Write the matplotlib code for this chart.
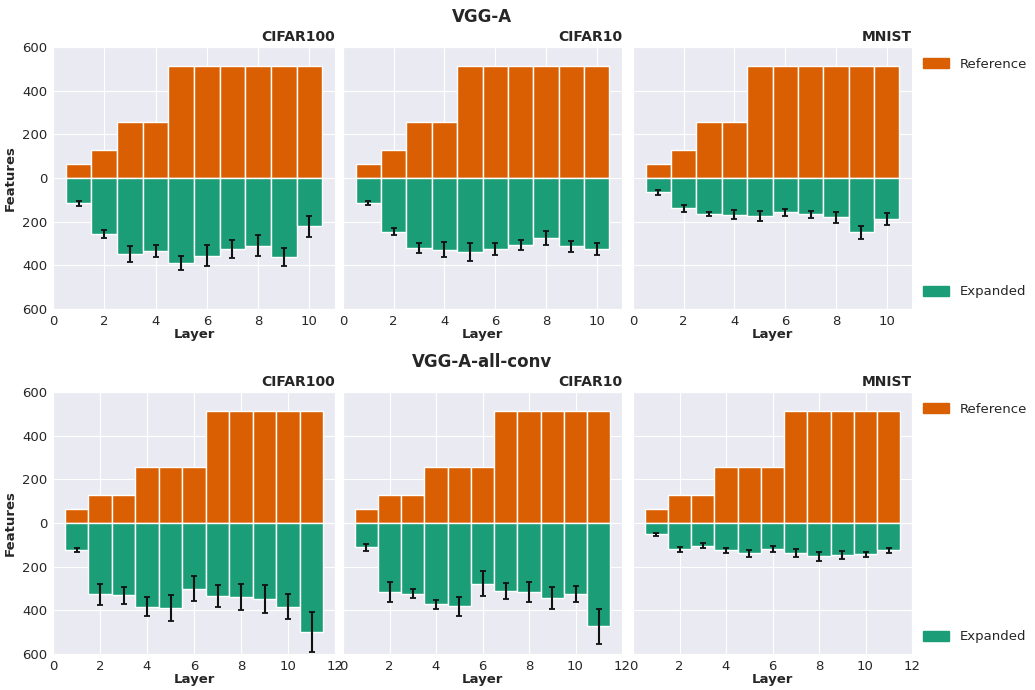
import matplotlib
matplotlib.use("Agg")
import matplotlib.pyplot as plt
import seaborn as sns
import numpy as np
from matplotlib.ticker import FuncFormatter
from matplotlib.patches import Patch

sns.set_style("darkgrid")
plt.rcParams['font.family'] = ['DejaVu Sans']

datasets = ["CIFAR100", "CIFAR10", "MNIST"]

# VGG-A: reference widths per layer
vgg_a_reference = [64, 128, 256, 256, 512, 512, 512, 512, 512, 512]
vgg_a_expanded = {
    "CIFAR100": [116, 256, 347, 334, 389, 357, 324, 310, 362, 221],
    "CIFAR10": [115, 247, 321, 328, 339, 325, 307, 275, 313, 324],
    "MNIST": [66, 139, 165, 169, 174, 157, 166, 180, 249, 189],
}
vgg_a_err = {
    "CIFAR100": [12, 17, 37, 29, 34, 48, 42, 49, 40, 47],
    "CIFAR10": [10, 16, 22, 34, 42, 29, 24, 34, 24, 27],
    "MNIST": [10, 15, 11, 21, 21, 15, 16, 25, 31, 27],
}

# VGG-A-all-conv: reference widths per layer
allconv_reference = [64, 128, 128, 256, 256, 256, 512, 512, 512, 512, 512]
allconv_expanded = {
    "CIFAR100": [124, 327, 331, 383, 388, 301, 336, 340, 348, 383, 499],
    "CIFAR10": [111, 315, 324, 373, 382, 278, 310, 315, 342, 325, 473],
    "MNIST": [52, 121, 104, 125, 139, 119, 139, 153, 148, 144, 125],
}
allconv_err = {
    "CIFAR100": [11, 49, 40, 43, 60, 57, 50, 60, 62, 56, 92],
    "CIFAR10": [17, 47, 20, 20, 42, 57, 37, 47, 51, 38, 80],
    "MNIST": [6, 11, 11, 11, 17, 12, 18, 22, 19, 12, 11],
}

ref_color = "#D95F02"
exp_color = "#1B9E77"

fig = plt.figure(figsize=(10.35, 6.9), dpi=100)

lefts = [53 / 1035, 343 / 1035, 633 / 1035]
widths = [282 / 1035, 279 / 1035, 279 / 1035]
rows = [
    ("VGG-A", vgg_a_reference, vgg_a_expanded, vgg_a_err, 1 - 309 / 690, 11),
    ("VGG-A-all-conv", allconv_reference, allconv_expanded, allconv_err, 1 - 654 / 690, 12),
]
ax_h = 262 / 690

absfmt = FuncFormatter(lambda v, p: f"{abs(v):g}")

for title, ref, expd, errs, bottom, xmax in rows:
    axes = []
    for i, ds in enumerate(datasets):
        ax = fig.add_axes([lefts[i], bottom, widths[i], ax_h])
        axes.append(ax)
        layers = np.arange(1, len(ref) + 1)
        ax.bar(layers, ref, width=1.0, color=ref_color, edgecolor="white",
               linewidth=1.0, label="Reference")
        neg = -np.array(expd[ds])
        ax.bar(layers, neg, width=1.0, color=exp_color, edgecolor="white",
               linewidth=1.0, label="Expanded")
        ax.errorbar(layers, neg, yerr=errs[ds], fmt="none", ecolor="#111111",
                    elinewidth=1.5, capsize=2, capthick=1.3)
        ax.set_xlim(0, xmax)
        ax.set_ylim(-600, 600)
        ax.set_xticks(np.arange(0, xmax + 1, 2))
        ax.set_yticks(np.arange(-600, 601, 200))
        ax.yaxis.set_major_formatter(absfmt)
        ax.tick_params(axis="both", labelsize=9.5, length=2, width=0.8,
                       color="#333333", pad=2, labelcolor="#262626")
        ax.set_xlabel("Layer", fontsize=9.5, fontweight="bold", labelpad=0,
                      color="#262626")
        ax.set_title(ds, loc="right", fontsize=10, fontweight="bold", pad=4,
                     color="#262626")
        if i == 0:
            ax.set_ylabel("Features", fontsize=9.5, fontweight="bold", labelpad=4,
                          color="#262626")
        else:
            ax.set_yticklabels([])
        ax.set_axisbelow(True)
    fig.text(482 / 1035, bottom + ax_h + 30 / 690, title, ha="center", va="center",
             fontsize=12, fontweight="bold", color="#262626")
    legend_kw = dict(frameon=False, fontsize=9.5, handlelength=2.0,
                     handleheight=0.8, handletextpad=0.8, borderaxespad=0.4)
    leg1 = axes[-1].legend(handles=[Patch(color=ref_color, label="Reference")],
                           loc="upper left", bbox_to_anchor=(1.0, 1.0), **legend_kw)
    axes[-1].add_artist(leg1)
    axes[-1].legend(handles=[Patch(color=exp_color, label="Expanded")],
                    loc="lower left", bbox_to_anchor=(1.0, 0.0), **legend_kw)

fig.savefig("out.png", dpi=100)
